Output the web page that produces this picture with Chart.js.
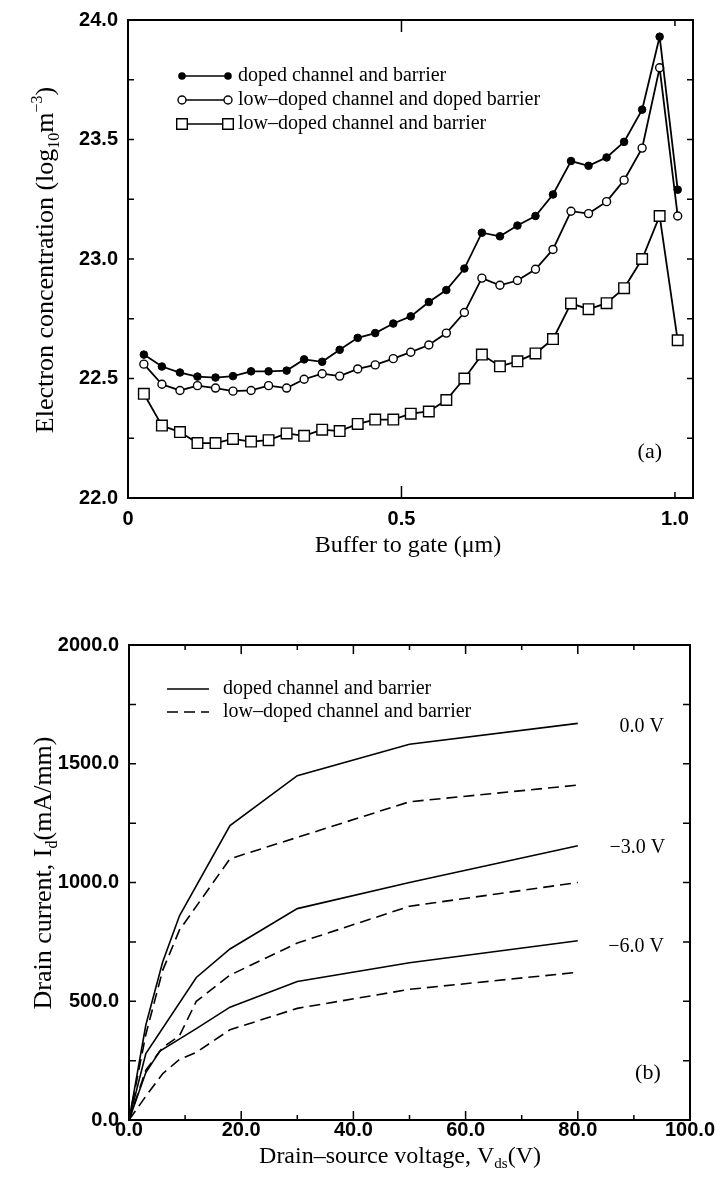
<!DOCTYPE html>
<html>
<head>
<meta charset="utf-8">
<script src="https://cdn.jsdelivr.net/npm/chart.js@4.4.0/dist/chart.umd.min.js"></script>
<style>
  body { margin: 0; background: #fff; width: 717px; height: 1179px; overflow: hidden; position: relative; }
  canvas { position: absolute; left: 0; }
  #chartA { top: 0; }
  #chartB { top: 600px; }
</style>
</head>
<body>
<canvas id="chartA" width="717" height="560"></canvas>
<canvas id="chartB" width="717" height="579"></canvas>
<script>
// (a) electron concentration vs. buffer-to-gate position
const bufferPos = [0.029, 0.062, 0.095, 0.127, 0.160, 0.192, 0.225, 0.257, 0.290, 0.322, 0.355,
                   0.387, 0.420, 0.452, 0.485, 0.517, 0.550, 0.582, 0.615, 0.647, 0.680,
                   0.712, 0.745, 0.777, 0.810, 0.842, 0.875, 0.907, 0.940, 0.972, 1.005];
const dopedBoth = [22.60, 22.55, 22.525, 22.508, 22.504, 22.51, 22.53, 22.53, 22.533, 22.58, 22.57,
                   22.62, 22.67, 22.69, 22.73, 22.76, 22.82, 22.87, 22.96, 23.11, 23.095,
                   23.14, 23.18, 23.27, 23.41, 23.39, 23.425, 23.49, 23.625, 23.93, 23.29];
const lowChanDopedBarrier = [22.56, 22.476, 22.45, 22.47, 22.46, 22.447, 22.45, 22.47, 22.46, 22.497, 22.52,
                             22.51, 22.54, 22.557, 22.583, 22.61, 22.64, 22.69, 22.776, 22.92, 22.89,
                             22.91, 22.957, 23.04, 23.20, 23.19, 23.24, 23.33, 23.464, 23.80, 23.18];
const lowDopedBoth = [22.436, 22.303, 22.276, 22.23, 22.23, 22.247, 22.236, 22.242, 22.27, 22.26, 22.286,
                      22.28, 22.31, 22.328, 22.328, 22.353, 22.362, 22.41, 22.50, 22.60, 22.551,
                      22.572, 22.605, 22.665, 22.814, 22.79, 22.815, 22.878, 23.00, 23.18, 22.66];
const aXTicks = [0, 0.5, 1.0];
const aXLabels = ['0', '0.5', '1.0'];
const aYTicks = [22.0, 22.5, 23.0, 23.5, 24.0];

// (b) drain current vs. drain-source voltage, gate bias 0, -3, -6 V
const vdsDoped0 = [0, 3, 6, 9, 18, 30, 50, 80];
const idDoped0 = [0, 400, 665, 860, 1240, 1450, 1582, 1670];
const vdsLow0 = [0, 3, 6, 9, 18, 50, 80];
const idLow0 = [0, 360, 630, 800, 1100, 1340, 1410];
const vdsDoped3 = [0, 3, 12, 18, 30, 50, 80];
const idDoped3 = [0, 280, 600, 720, 890, 1000, 1155];
const vdsLow3 = [0, 3, 6, 9, 12, 18, 30, 50, 80];
const idLow3 = [0, 210, 305, 355, 500, 610, 745, 900, 1000];
const vdsDoped6 = [0, 3, 5.5, 12, 18, 30, 50, 80];
const idDoped6 = [0, 200, 290, 385, 475, 583, 662, 755];
const vdsLow6 = [0, 3, 6, 9, 12, 18, 30, 50, 80];
const idLow6 = [0, 100, 195, 255, 285, 380, 470, 550, 622];
const bXTicks = [0, 20, 40, 60, 80, 100];
const bYTicks = [0, 500, 1000, 1500, 2000];

const SERIF = '"Liberation Serif", "Times New Roman", serif';
const SANS = '"Liberation Sans", Arial, sans-serif';
const DASH = [11, 6];

const pairs = (xs, ys) => xs.map((x, i) => ({ x: x, y: ys[i] }));

// text with sub/superscripts, centred on (x, y)
function drawRich(ctx, parts, x, y, size, rotate) {
  ctx.save();
  ctx.translate(x, y);
  if (rotate) ctx.rotate(-Math.PI / 2);
  const small = Math.round(size * 0.62);
  let total = 0;
  parts.forEach(([t, k]) => {
    ctx.font = (k === 'n' ? size : small) + 'px ' + SERIF;
    total += ctx.measureText(t).width;
  });
  let cx = -total / 2;
  ctx.textBaseline = 'alphabetic';
  ctx.textAlign = 'left';
  ctx.fillStyle = '#000';
  parts.forEach(([t, k]) => {
    ctx.font = (k === 'n' ? size : small) + 'px ' + SERIF;
    const dy = k === 'sub' ? size * 0.22 : (k === 'sup' ? -size * 0.42 : 0);
    ctx.fillText(t, cx, size * 0.32 + dy);
    cx += ctx.measureText(t).width;
  });
  ctx.restore();
}

function drawMarker(ctx, style, x, y) {
  ctx.save();
  ctx.strokeStyle = '#000';
  ctx.lineWidth = 1.4;
  ctx.beginPath();
  if (style === 'filled') {
    ctx.arc(x, y, 3.8, 0, Math.PI * 2);
    ctx.fillStyle = '#000';
    ctx.fill();
  } else if (style === 'open') {
    ctx.arc(x, y, 4, 0, Math.PI * 2);
    ctx.fillStyle = '#fff';
    ctx.fill();
    ctx.stroke();
  } else if (style === 'square') {
    ctx.rect(x - 5.3, y - 5.3, 10.6, 10.6);
    ctx.fillStyle = '#fff';
    ctx.fill();
    ctx.stroke();
  }
  ctx.restore();
}

const framePlugin = {
  id: 'frame',
  afterDatasetsDraw(chart, args, o) {
    const { ctx, chartArea: a, scales } = chart;
    ctx.save();
    ctx.strokeStyle = '#000';
    ctx.lineWidth = 2;
    ctx.strokeRect(a.left, a.top, a.right - a.left, a.bottom - a.top);
    ctx.lineWidth = 1.5;
    ctx.beginPath();
    o.xTicks.forEach(([v, len]) => {
      const px = scales.x.getPixelForValue(v);
      ctx.moveTo(px, a.bottom); ctx.lineTo(px, a.bottom - len);
      ctx.moveTo(px, a.top); ctx.lineTo(px, a.top + len);
    });
    o.yTicks.forEach(([v, len]) => {
      const py = scales.y.getPixelForValue(v);
      ctx.moveTo(a.left, py); ctx.lineTo(a.left + len, py);
      ctx.moveTo(a.right, py); ctx.lineTo(a.right - len, py);
    });
    ctx.stroke();

    ctx.fillStyle = '#000';
    ctx.textAlign = 'center';
    ctx.textBaseline = 'middle';
    o.notes.forEach(n => {
      ctx.font = n.size + 'px ' + SERIF;
      ctx.fillText(n.text, scales.x.getPixelForValue(n.x), scales.y.getPixelForValue(n.y));
    });

    // legend
    o.legend.items.forEach((it, i) => {
      const y = o.legend.y + i * o.legend.gap;
      ctx.save();
      ctx.lineWidth = 1.6;
      ctx.setLineDash(it.dash || []);
      ctx.beginPath();
      ctx.moveTo(o.legend.x1, y);
      ctx.lineTo(o.legend.x2, y);
      ctx.stroke();
      ctx.restore();
      if (it.marker) {
        drawMarker(ctx, it.marker, o.legend.x1, y);
        drawMarker(ctx, it.marker, o.legend.x2, y);
      }
      ctx.font = '20px ' + SERIF;
      ctx.textAlign = 'left';
      ctx.textBaseline = 'middle';
      ctx.fillText(it.text, o.legend.tx, y);
    });

    drawRich(ctx, o.xTitle.parts, o.xTitle.x, o.xTitle.y, o.xTitle.size, false);
    drawRich(ctx, o.yTitle.parts, o.yTitle.x, o.yTitle.y, o.yTitle.size, true);
    ctx.restore();
  }
};

function axes(xMin, xMax, xTicks, xLabel, xPad, yMin, yMax, yTicks, yLabel, yWidth, xHeight) {
  return {
    x: {
      type: 'linear', min: xMin, max: xMax,
      grid: { display: false, drawTicks: false }, border: { display: false },
      afterBuildTicks: s => { s.ticks = xTicks.map(v => ({ value: v })); },
      afterFit: s => { s.height = xHeight; },
      ticks: { color: '#000', padding: xPad, maxRotation: 0, autoSkip: false,
               font: { family: SANS, size: 20, weight: 'bold', lineHeight: 1 }, callback: xLabel }
    },
    y: {
      type: 'linear', min: yMin, max: yMax,
      grid: { display: false, drawTicks: false }, border: { display: false },
      afterBuildTicks: s => { s.ticks = yTicks.map(v => ({ value: v })); },
      afterFit: s => { s.width = yWidth; },
      ticks: { color: '#000', padding: 10, autoSkip: false,
               font: { family: SANS, size: 20, weight: 'bold', lineHeight: 1 }, callback: yLabel }
    }
  };
}

new Chart(document.getElementById('chartA'), {
  type: 'line',
  data: {
    datasets: [
      { label: 'doped channel and barrier', data: pairs(bufferPos, dopedBoth),
        borderColor: '#000', borderWidth: 1.8, pointStyle: 'circle', pointRadius: 3.8,
        pointBackgroundColor: '#000', pointBorderColor: '#000', pointBorderWidth: 1 },
      { label: 'low–doped channel and doped barrier', data: pairs(bufferPos, lowChanDopedBarrier),
        borderColor: '#000', borderWidth: 1.8, pointStyle: 'circle', pointRadius: 4,
        pointBackgroundColor: '#fff', pointBorderColor: '#000', pointBorderWidth: 1.4 },
      { label: 'low–doped channel and barrier', data: pairs(bufferPos, lowDopedBoth),
        borderColor: '#000', borderWidth: 1.8, pointStyle: 'rect', pointRadius: 7.5,
        pointBackgroundColor: '#fff', pointBorderColor: '#000', pointBorderWidth: 1.4 }
    ]
  },
  options: {
    responsive: false, animation: false,
    layout: { padding: { top: 18, right: 24, left: 0, bottom: 0 } },
    elements: { line: { tension: 0 } },
    scales: axes(0, 1.033, aXTicks, (v, i) => aXLabels[i], 11,
                 22, 24, aYTicks, v => v.toFixed(1), 128, 62),
    plugins: {
      legend: { display: false }, tooltip: { enabled: false },
      frame: {
        xTicks: [[0.5, 12], [1.0, 6]],
        yTicks: [[22.25, 6], [22.5, 6], [22.75, 6], [23.0, 6], [23.25, 6], [23.5, 6], [23.75, 6]],
        notes: [{ text: '(a)', x: 0.954, y: 22.19, size: 22 }],
        legend: {
          x1: 182, x2: 228, tx: 238, y: 76, gap: 24,
          items: [
            { text: 'doped channel and barrier', marker: 'filled' },
            { text: 'low–doped channel and doped barrier', marker: 'open' },
            { text: 'low–doped channel and barrier', marker: 'square' }
          ]
        },
        xTitle: { parts: [['Buffer to gate (μm)', 'n']], x: 408, y: 544, size: 24 },
        yTitle: { parts: [['Electron concentration (log', 'n'], ['10', 'sub'], ['m', 'n'], ['−3', 'sup'], [')', 'n']],
                  x: 45, y: 260, size: 26 }
      }
    }
  },
  plugins: [framePlugin]
});

const ivLine = (label, xs, ys, dash) => ({
  label: label, data: pairs(xs, ys), borderColor: '#000', borderWidth: 1.6,
  borderDash: dash, pointRadius: 0
});

new Chart(document.getElementById('chartB'), {
  type: 'line',
  data: {
    datasets: [
      ivLine('doped channel and barrier, 0.0 V', vdsDoped0, idDoped0, []),
      ivLine('low–doped channel and barrier, 0.0 V', vdsLow0, idLow0, DASH),
      ivLine('doped channel and barrier, −3.0 V', vdsDoped3, idDoped3, []),
      ivLine('low–doped channel and barrier, −3.0 V', vdsLow3, idLow3, DASH),
      ivLine('doped channel and barrier, −6.0 V', vdsDoped6, idDoped6, []),
      ivLine('low–doped channel and barrier, −6.0 V', vdsLow6, idLow6, DASH)
    ]
  },
  options: {
    responsive: false, animation: false,
    layout: { padding: { top: 45, right: 27, left: 0, bottom: 0 } },
    elements: { line: { tension: 0 } },
    scales: axes(0, 100, bXTicks, v => v.toFixed(1), 0,
                 0, 2000, bYTicks, v => v.toFixed(1), 129, 59),
    plugins: {
      legend: { display: false }, tooltip: { enabled: false },
      frame: {
        xTicks: [[10, 5], [20, 9], [30, 5], [40, 9], [50, 5], [60, 9], [70, 5], [80, 9], [90, 5]],
        yTicks: [[250, 7], [500, 7], [750, 7], [1000, 7], [1250, 7], [1500, 7], [1750, 7]],
        notes: [
          { text: '0.0 V', x: 91.4, y: 1655, size: 20 },
          { text: '−3.0 V', x: 90.6, y: 1145, size: 20 },
          { text: '−6.0 V', x: 90.4, y: 728, size: 20 },
          { text: '(b)', x: 92.5, y: 198, size: 22 }
        ],
        legend: {
          x1: 167, x2: 209, tx: 223, y: 89, gap: 23,
          items: [
            { text: 'doped channel and barrier', dash: [] },
            { text: 'low–doped channel and barrier', dash: DASH }
          ]
        },
        xTitle: { parts: [['Drain–source voltage, V', 'n'], ['ds', 'sub'], ['(V)', 'n']], x: 400, y: 555, size: 24 },
        yTitle: { parts: [['Drain current, I', 'n'], ['d', 'sub'], ['(mA/mm)', 'n']], x: 43, y: 273, size: 26 }
      }
    }
  },
  plugins: [framePlugin]
});
</script>
</body>
</html>
